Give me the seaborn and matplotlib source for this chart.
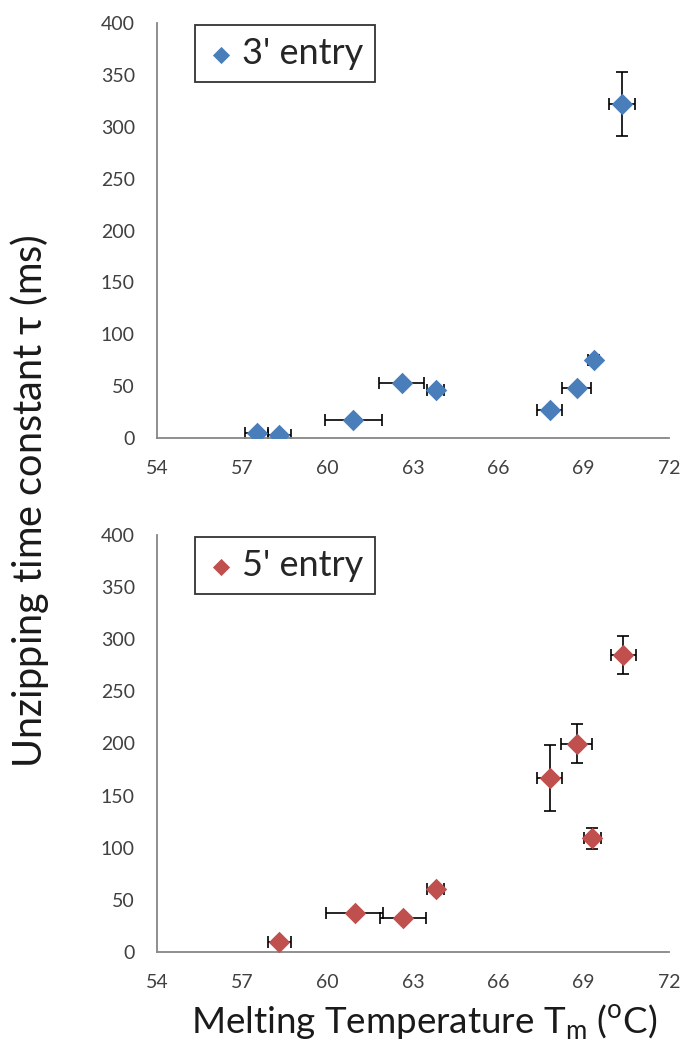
import numpy as np
import pandas as pd
import seaborn as sns
import matplotlib.pyplot as plt

# 3' entry
tm_3 = [57.5, 58.3, 60.9, 62.6, 63.8, 67.8, 68.75, 69.35, 70.35]
tau_3 = [5, 3, 17, 53, 46, 27, 48, 75, 322]
tm_err_3 = [0.4, 0.4, 1.0, 0.8, 0.3, 0.45, 0.5, 0.2, 0.45]
tau_err_3 = [0, 0, 0, 0, 0, 0, 0, 4, 31]

# 5' entry
tm_5 = [58.3, 60.95, 62.65, 63.8, 67.8, 68.75, 69.3, 70.4]
tau_5 = [10, 37, 33, 60, 167, 200, 109, 285]
tm_err_5 = [0.4, 1.0, 0.8, 0.3, 0.45, 0.55, 0.3, 0.45]
tau_err_5 = [0, 0, 0, 0, 31.5, 18.5, 10, 18]

x_ticks = [54, 57, 60, 63, 66, 69, 72]
y_ticks = [0, 50, 100, 150, 200, 250, 300, 350, 400]

sns.set_style("white")
plt.rcParams["font.family"] = ["Lato", "DejaVu Sans"]

fig = plt.figure(figsize=(6.84, 10.49), dpi=100)
W, H = 684, 1049
ax_top = fig.add_axes([157 / W, 1 - 438 / H, 512 / W, 415 / H])
ax_bot = fig.add_axes([157 / W, 1 - 952 / H, 512 / W, 417 / H])

panels = [
    (ax_top, tm_3, tau_3, tm_err_3, tau_err_3, "#4a7ebb", "3' entry"),
    (ax_bot, tm_5, tau_5, tm_err_5, tau_err_5, "#c0504d", "5' entry"),
]

for ax, xs, ys, xe, ye, col, lab in panels:
    df = pd.DataFrame({"Tm": xs, "tau": ys})
    ax.errorbar(xs, ys, xerr=xe, yerr=ye, fmt="none", ecolor="black",
                elinewidth=1.2, capsize=4.5, capthick=1.2, zorder=2)
    sns.scatterplot(data=df, x="Tm", y="tau", ax=ax, marker="D", s=120,
                    color=col, edgecolor=col, linewidth=0, label=lab, zorder=3)
    ax.set_xlim(54, 72)
    ax.set_ylim(0, 400)
    ax.set_xticks(x_ticks)
    ax.set_yticks(y_ticks)
    ax.set_xlabel("")
    ax.set_ylabel("")
    for s in ["top", "right"]:
        ax.spines[s].set_visible(False)
    for s in ["left", "bottom"]:
        ax.spines[s].set_color("#868686")
        ax.spines[s].set_linewidth(1.3)
    ax.tick_params(axis="both", which="major", labelsize=14, colors="#868686",
                   labelcolor="#404040", direction="out", width=1)
    ax.tick_params(axis="x", length=5, pad=11)
    ax.tick_params(axis="y", length=4, pad=12)
    leg = ax.legend(loc="upper left", bbox_to_anchor=(0.075, 0.995), fontsize=26,
                    frameon=True, fancybox=False, handletextpad=0.2,
                    borderpad=0.33, borderaxespad=0, handlelength=0.75,
                    markerscale=0.8)
    leg.get_frame().set_edgecolor("black")
    leg.get_frame().set_linewidth(1.3)

fig.text(30 / W, 1 - 501 / H, r"Unzipping time constant $\mathregular{\tau}$ (ms)",
         rotation=90, ha="center", va="center", fontsize=28.5, color="#1a1a1a")
fig.text(424 / W, 1 - 1022 / H,
         r"Melting Temperature T$_\mathregular{m}$ ($^\mathregular{o}$C)",
         ha="center", va="center", fontsize=26.5, color="#1a1a1a")

plt.savefig("out.png", dpi=100)
